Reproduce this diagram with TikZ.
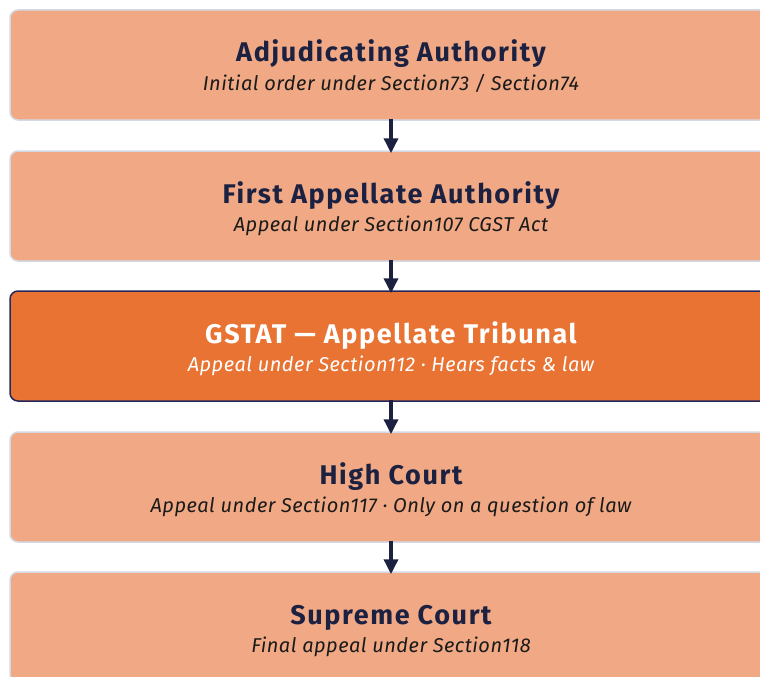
\documentclass[tikz,border=0pt]{standalone}
\usepackage{fontspec}
\setmainfont{Fira Sans}
\usetikzlibrary{arrows.meta}
\definecolor{boxfill}{HTML}{F0A984}
\definecolor{boxline}{HTML}{D3DAE6}
\definecolor{hifill}{HTML}{E87333}
\definecolor{hiline}{HTML}{23285A}
\definecolor{navy}{HTML}{1C2142}
\definecolor{subtxt}{HTML}{1A1A1A}
\tikzset{
  stage/.style={draw=boxline, line width=1.5pt, fill=boxfill, rounded corners=8pt,
    minimum width=762pt, minimum height=110pt, inner sep=0pt},
  histage/.style={stage, draw=hiline, fill=hifill},
  ttl/.style={font=\fontsize{27}{30}\selectfont\bfseries\addfontfeatures{LetterSpace=6}, text=navy, inner sep=0pt, anchor=base},
  sub/.style={font=\fontsize{20}{23}\selectfont\itshape\addfontfeatures{LetterSpace=2.5}, text=subtxt, inner sep=0pt, anchor=base},
  hittl/.style={ttl, text=white},
  hisub/.style={sub, text=white},
  arr/.style={draw=navy, line width=3.5pt, -{Triangle[width=14pt,length=15pt]}}
}
\begin{document}
\begin{tikzpicture}[x=1pt,y=-1pt]
\useasboundingbox (0,0) rectangle (760,677);
\node[stage]   (b1) at (391,65)    {};
\node[stage]   (b2) at (391,206)   {};
\node[histage] (b3) at (391,346)   {};
\node[stage]   (b4) at (391,487)   {};
\node[stage]   (b5) at (391,627)   {};
\node[ttl]   (t1) at ([yshift=3pt]b1.center)  {Adjudicating Authority};
\node[sub]   (s1) at ([yshift=-25pt]b1.center) {Initial order under Section73 / Section74};
\node[ttl]   (t2) at ([yshift=3pt]b2.center)  {First Appellate Authority};
\node[sub]   (s2) at ([yshift=-25pt]b2.center) {Appeal under Section107 CGST Act};
\node[hittl] (t3) at ([yshift=3pt]b3.center)  {GSTAT — Appellate Tribunal};
\node[hisub] (s3) at ([yshift=-25pt]b3.center) {Appeal under Section112 · Hears facts \& law};
\node[ttl]   (t4) at ([yshift=3pt]b4.center)  {High Court};
\node[sub]   (s4) at ([yshift=-25pt]b4.center) {Appeal under Section117 · Only on a question of law};
\node[ttl]   (t5) at ([yshift=3pt]b5.center)  {Supreme Court};
\node[sub]   (s5) at ([yshift=-25pt]b5.center) {Final appeal under Section118};
\draw[arr] ([yshift=2pt]b1.south) -- ([yshift=-3pt]b2.north);
\draw[arr] ([yshift=2pt]b2.south) -- ([yshift=-3pt]b3.north);
\draw[arr] ([yshift=2pt]b3.south) -- ([yshift=-3pt]b4.north);
\draw[arr] ([yshift=2pt]b4.south) -- ([yshift=-3pt]b5.north);
\end{tikzpicture}
\end{document}
